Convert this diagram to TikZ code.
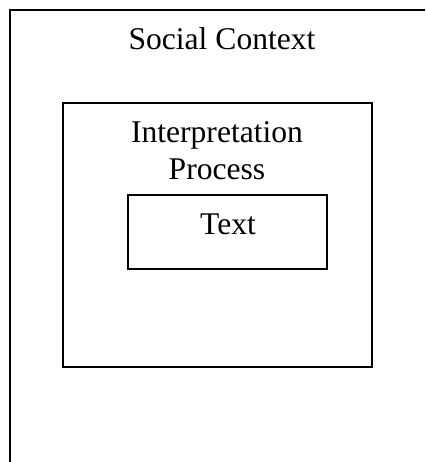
\documentclass[tikz,border=0pt]{standalone}
\usepackage{fontspec}
\setmainfont{Liberation Serif}
\begin{document}
\begin{tikzpicture}[x=1pt,y=1pt,
  lbl/.style={anchor=base,inner sep=0pt,font=\fontsize{31.6}{36}\selectfont},
  boxline/.style={draw=black,line width=1.3pt}]
\useasboundingbox (0,0) rectangle (425,462);
% outer frame (only top and left edges visible)
\coordinate (otr) at (425,452);
\coordinate (otl) at (10,452);
\coordinate (obl) at (10,0);
\draw[line width=2pt] (otr) -- (otl) -- (obl);
\node[lbl] (social) at (222,412) {Social Context};
% middle box
\node[boxline,minimum width=309pt,minimum height=264pt,inner sep=0pt] (interp) at (217.5,227) {};
\node[lbl] (interpA) at (217,319) {Interpretation};
\node[lbl] (interpB) at (217,282) {Process};
% inner box
\node[boxline,minimum width=199pt,minimum height=74pt,inner sep=0pt] (textbox) at (227.5,230) {};
\node[lbl] (text) at (228,227) {Text};
\end{tikzpicture}
\end{document}
